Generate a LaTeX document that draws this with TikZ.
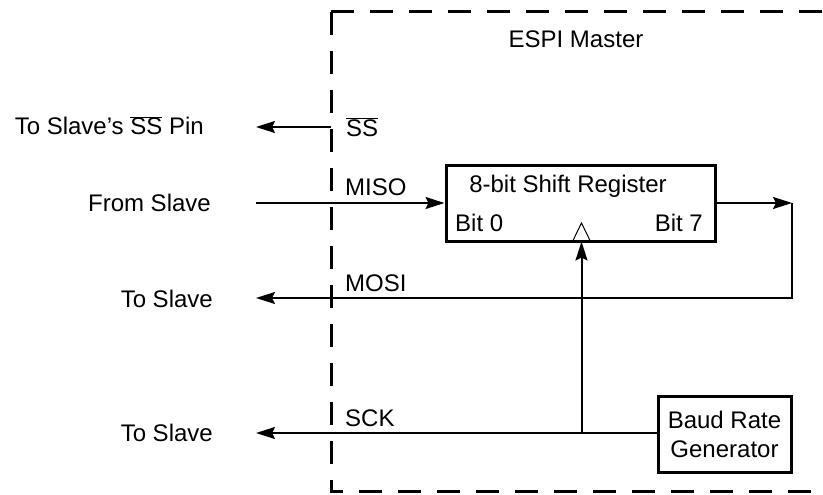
\documentclass[tikz,border=0pt]{standalone}
\usepackage{fontspec}
\setmainfont{Liberation Sans}
\usetikzlibrary{arrows.meta,positioning,calc}

\newcommand{\barSS}{$\overline{\mbox{SS}}$}

\begin{document}
\begin{tikzpicture}[
    x=1pt, y=-1pt,
    font=\fontsize{24}{29}\selectfont,
    >={Stealth[length=19pt,width=12pt,inset=3pt]},
    wire/.style={line width=2pt},
    regbox/.style={rectangle, draw, line width=3pt, minimum width=269pt, minimum height=76pt, inner sep=0pt},
    genbox/.style={rectangle, draw, line width=3pt, minimum width=133pt, minimum height=76pt, align=center, inner sep=0pt},
    side/.style={anchor=base east, inner sep=0pt},
    pin/.style={anchor=base west, inner sep=0pt},
    boundary/.style={line width=3pt, dash pattern=on 23pt off 16pt}
]
\useasboundingbox (0,0) rectangle (823,495);

% ESPI master boundary (open to the right)
\coordinate (ctl) at (331,12);
\coordinate (cbl) at (331,491);
\draw[boundary] (ctl) -- (830,12);
\draw[boundary] (ctl) -- (cbl) -- (830,491);
\node[anchor=base, inner sep=0pt] (title) at (576,48) {ESPI Master};

% Blocks
\node[regbox] (reg) at (580.5,203) {};
\node[anchor=base, inner sep=0pt] (regname) at (568,192) {8-bit Shift Register};
\node[pin] (bit0) at (455,231) {Bit 0};
\node[anchor=base east, inner sep=0pt] (bit7) at (703,231) {Bit 7};
\node[genbox] (baud) at (724.5,434) {Baud Rate\\Generator};

% Clock input triangle
\coordinate (clk) at (581.5,241.5);
\draw[line width=1pt] ($(clk)+(-9,0)$) -- ($(clk)+(0,-18.5)$) -- ($(clk)+(9,0)$);

% Outside signal labels
\node[side] (ssout) at (204,135) {To Slave’s \barSS{} Pin};
\node[side] (misosrc) at (211,211) {From Slave};
\node[side] (mosiout) at (213,307) {To Slave};
\node[side] (sckout) at (213,441) {To Slave};

% Pin names
\node[pin] (sspin) at (346,136) {\barSS};
\node[pin] (misopin) at (345,195) {MISO};
\node[pin] (mosipin) at (345,291) {MOSI};
\node[pin] (sckpin) at (345,426) {SCK};

% Connections
\coordinate (ssend) at (256,127);
\coordinate (misobeg) at (256,203);
\coordinate (loop) at (792,203);
\coordinate (mosiend) at (256,298);
\coordinate (sckend) at (256,433);
\coordinate (tap) at (581.5,433);

\draw[wire, ->] (ctl |- ssend) -- (ssend);
\draw[wire, ->] (misobeg) -- (reg.west);
\draw[wire, ->] (reg.east |- loop) -- (loop);
\draw[wire, ->] (loop) |- (mosiend);
\draw[wire, ->] (baud.west |- tap) -- (sckend);
\draw[wire, ->] (tap) -- (clk);

\end{tikzpicture}
\end{document}
